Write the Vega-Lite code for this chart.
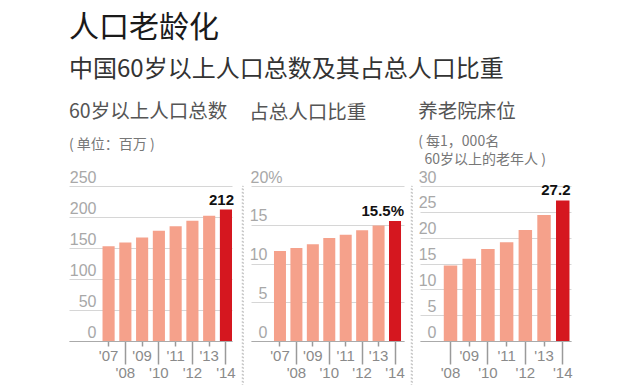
{
  "$schema": "https://vega.github.io/schema/vega-lite/v6.json",
  "padding": {"left": 69, "top": 12, "right": 0, "bottom": 0},
  "background": "white",
  "title": {
    "text": "人口老龄化",
    "subtitle": "中国60岁以上人口总数及其占总人口比重",
    "anchor": "start",
    "font": "Noto Sans CJK SC",
    "fontSize": 30,
    "fontWeight": "normal",
    "color": "#1a1a1a",
    "subtitleFont": "Noto Sans CJK SC",
    "subtitleFontSize": 24,
    "subtitleColor": "#333333",
    "subtitlePadding": 15,
    "offset": 20
  },
  "config": {
    "view": {"stroke": null},
    "axis": {"labelOverlap": false},
    "axisX": {
      "title": null,
      "labelAngle": 0,
      "labelFont": "Liberation Sans",
      "labelFontSize": 15,
      "labelColor": "#8a8a8a",
      "labelOverlap": false,
      "labelBaseline": "top",
      "labelExpr": "\"'\" + substring(datum.label, 2)",
      "domainColor": "#aaaaaa",
      "domainWidth": 1,
      "tickColor": "#9a9a9a",
      "tickWidth": 1.5,
      "grid": false
    },
    "axisY": {
      "title": null,
      "domain": false,
      "ticks": false,
      "tickSize": 0,
      "grid": true,
      "gridColor": "#d6d6d6",
      "gridWidth": 1,
      "labelOverlap": false,
      "labelFont": "Liberation Sans",
      "labelFontSize": 16,
      "labelColor": "#a8a8a8",
      "labelAlign": "right",
      "labelBaseline": "alphabetic",
      "labelOffset": -4
    }
  },
  "spacing": 5,
  "hconcat": [
    {
      "width": 163,
      "height": 155,
      "title": {
        "text": "60岁以上人口总数",
        "subtitle": "( 单位：百万 )",
        "anchor": "start",
        "font": "Noto Sans CJK SC",
        "fontSize": 19.5,
        "fontWeight": "normal",
        "color": "#555555",
        "subtitleFont": "Noto Sans CJK SC",
        "subtitleFontSize": 14,
        "subtitleColor": "#777777",
        "subtitleLineHeight": 18,
        "subtitlePadding": 16,
        "offset": 16
      },
      "data": {"values": [
        {"year": 2007, "v": 153},
        {"year": 2008, "v": 159},
        {"year": 2009, "v": 167},
        {"year": 2010, "v": 178},
        {"year": 2011, "v": 185},
        {"year": 2012, "v": 194},
        {"year": 2013, "v": 202},
        {"year": 2014, "v": 212}
      ]},
      "resolve": {"axis": {"y": "independent"}},
      "layer": [
        {
          "mark": {"type": "bar"},
          "encoding": {
            "x": {"field": "year", "type": "ordinal",
              "scale": {"paddingInner": 0.277, "paddingOuter": 1.05, "align": 1},
              "axis": {
                "tickSize": {"condition": {"test": "datum.value % 2 == 1", "value": 5}, "value": 23},
                "labelPadding": {"condition": {"test": "datum.value % 2 == 1", "value": 2}, "value": 1}
              }},
            "y": {"field": "v", "type": "quantitative",
              "scale": {"domain": [0, 250], "nice": false},
              "axis": {"values": [0, 50, 100, 150, 200, 250], "labelPadding": -27, "labelOverlap": false}},
            "color": {"condition": {"test": "datum.year == 2014", "value": "#d5171f"}, "value": "#f5a18b"}
          }
        },
        {
          "transform": [{"filter": "datum.year == 2014"}],
          "mark": {"type": "text", "align": "right", "baseline": "alphabetic", "dx": 2, "dy": -5,
            "font": "Liberation Sans", "fontSize": 15, "fontWeight": "bold", "color": "#111111"},
          "encoding": {
            "x": {"field": "year", "type": "ordinal", "bandPosition": 1},
            "y": {"field": "v", "type": "quantitative", "axis": null},
            "text": {"field": "v", "type": "quantitative", "format": ".0f"}
          }
        }
      ]
    },
    {
      "width": 1,
      "height": 272,
      "data": {"values": [{}]},
      "mark": {"type": "rule", "opacity": 0},
      "encoding": {},
      "view": {"stroke": "#aaaaaa", "strokeDash": [1.5, 2], "strokeWidth": 0.8}
    },
    {
      "width": 153,
      "height": 155,
      "title": {
        "text": "占总人口比重",
        "anchor": "start",
        "font": "Noto Sans CJK SC",
        "fontSize": 19.5,
        "fontWeight": "normal",
        "color": "#555555",
        "offset": 46
      },
      "data": {"values": [
        {"year": 2007, "v": 11.6},
        {"year": 2008, "v": 12.0},
        {"year": 2009, "v": 12.5},
        {"year": 2010, "v": 13.3},
        {"year": 2011, "v": 13.7},
        {"year": 2012, "v": 14.3},
        {"year": 2013, "v": 14.9},
        {"year": 2014, "v": 15.5}
      ]},
      "resolve": {"axis": {"y": "independent"}},
      "layer": [
        {
          "mark": {"type": "bar"},
          "encoding": {
            "x": {"field": "year", "type": "ordinal",
              "scale": {"paddingInner": 0.27, "paddingOuter": 0.79, "align": 0.885},
              "axis": {
                "tickSize": {"condition": {"test": "datum.value % 2 == 1", "value": 5}, "value": 23},
                "labelPadding": {"condition": {"test": "datum.value % 2 == 1", "value": 2}, "value": 1}
              }},
            "y": {"field": "v", "type": "quantitative",
              "scale": {"domain": [0, 20], "nice": false},
              "axis": {"values": [0, 5, 10, 15, 20],
                "labelOverlap": false,
                "labelExpr": "datum.value == 20 ? '20%' : datum.label",
                "labelAlign": {"condition": {"test": "datum.value == 20", "value": "left"}, "value": "right"},
                "labelPadding": {"condition": {"test": "datum.value == 20", "value": 1}, "value": -16}}},
            "color": {"condition": {"test": "datum.year == 2014", "value": "#d5171f"}, "value": "#f5a18b"}
          }
        },
        {
          "transform": [{"filter": "datum.year == 2014"}, {"calculate": "format(datum.v, '.1f') + '%'", "as": "label"}],
          "mark": {"type": "text", "align": "right", "baseline": "alphabetic", "dx": 3, "dy": -5,
            "font": "Liberation Sans", "fontSize": 15, "fontWeight": "bold", "color": "#111111"},
          "encoding": {
            "x": {"field": "year", "type": "ordinal", "bandPosition": 1},
            "y": {"field": "v", "type": "quantitative", "axis": null},
            "text": {"field": "label", "type": "nominal"}
          }
        }
      ]
    },
    {
      "width": 1,
      "height": 272,
      "data": {"values": [{}]},
      "mark": {"type": "rule", "opacity": 0},
      "encoding": {},
      "view": {"stroke": "#aaaaaa", "strokeDash": [1.5, 2], "strokeWidth": 0.8}
    },
    {
      "width": 151,
      "height": 155,
      "title": {
        "text": "养老院床位",
        "subtitle": ["( 每1，000名", "\u200b\u00a0\u00a060岁以上的老年人 )"],
        "anchor": "start",
        "font": "Noto Sans CJK SC",
        "fontSize": 19.5,
        "fontWeight": "normal",
        "color": "#555555",
        "subtitleFont": "Noto Sans CJK SC",
        "subtitleFontSize": 14,
        "subtitleColor": "#777777",
        "subtitleLineHeight": 18,
        "subtitlePadding": 13,
        "offset": 1
      },
      "data": {"values": [
        {"year": 2008, "v": 14.6},
        {"year": 2009, "v": 15.9},
        {"year": 2010, "v": 17.8},
        {"year": 2011, "v": 19.1},
        {"year": 2012, "v": 21.5},
        {"year": 2013, "v": 24.4},
        {"year": 2014, "v": 27.2}
      ]},
      "resolve": {"axis": {"y": "independent"}},
      "layer": [
        {
          "mark": {"type": "bar"},
          "encoding": {
            "x": {"field": "year", "type": "ordinal",
              "scale": {"paddingInner": 0.28, "paddingOuter": 0.676, "align": 0.94},
              "axis": {
                "tickSize": {"condition": {"test": "datum.value % 2 == 1", "value": 5}, "value": 23},
                "labelPadding": {"condition": {"test": "datum.value % 2 == 1", "value": 2}, "value": 1}
              }},
            "y": {"field": "v", "type": "quantitative",
              "scale": {"domain": [0, 30], "nice": false},
              "axis": {"values": [0, 5, 10, 15, 20, 25, 30], "labelPadding": -16, "labelOverlap": false}},
            "color": {"condition": {"test": "datum.year == 2014", "value": "#d5171f"}, "value": "#f5a18b"}
          }
        },
        {
          "transform": [{"filter": "datum.year == 2014"}],
          "mark": {"type": "text", "align": "right", "baseline": "alphabetic", "dx": 1, "dy": -5,
            "font": "Liberation Sans", "fontSize": 15, "fontWeight": "bold", "color": "#111111"},
          "encoding": {
            "x": {"field": "year", "type": "ordinal", "bandPosition": 1},
            "y": {"field": "v", "type": "quantitative", "axis": null},
            "text": {"field": "v", "type": "quantitative", "format": ".1f"}
          }
        }
      ]
    }
  ]
}
